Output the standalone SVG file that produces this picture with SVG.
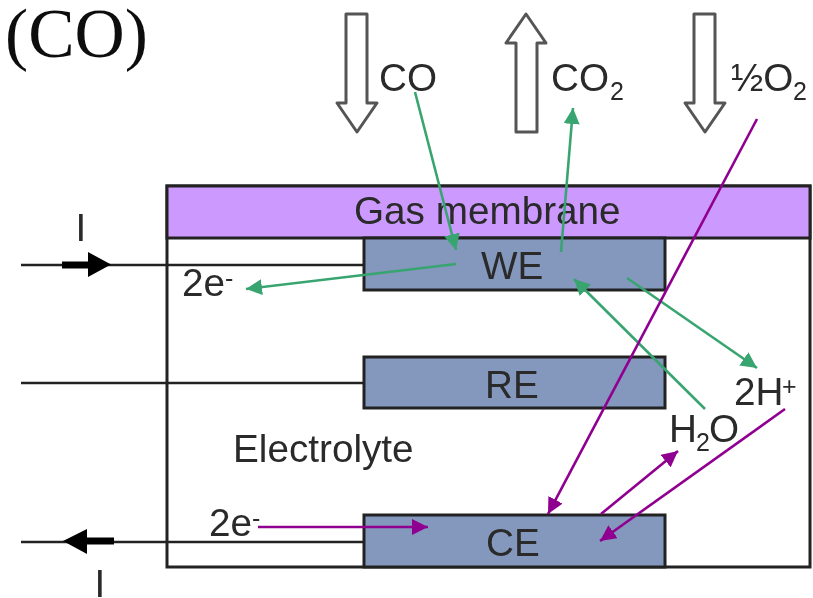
<svg xmlns="http://www.w3.org/2000/svg" width="813" height="598" viewBox="0 0 813 598">
<style>
.t{font-family:"Liberation Sans",Arial,sans-serif;fill:#2a2a2a;font-size:38.7px}
.s{font-size:25px}
.box{fill:#8497bd;stroke:#222;stroke-width:3}
.blk{fill:none;stroke:#222;stroke-width:2.6}
.hollow{fill:#fff;stroke:#555;stroke-width:3;stroke-linejoin:round}
.g{stroke:#38a56f;stroke-width:2.6;fill:none;marker-end:url(#mg)}
.p{stroke:#900090;stroke-width:2.6;fill:none;marker-end:url(#mp)}
</style>
<defs>
<filter id="soft" x="-2%" y="-2%" width="104%" height="104%"><feGaussianBlur stdDeviation="0.65"/></filter>
<marker id="mg" markerUnits="userSpaceOnUse" markerWidth="24" markerHeight="20" refX="16" refY="8" orient="auto"><path d="M0 0L16 8L0 16Z" fill="#38a56f"/></marker>
<marker id="mp" markerUnits="userSpaceOnUse" markerWidth="24" markerHeight="20" refX="16" refY="8" orient="auto"><path d="M0 0L16 8L0 16Z" fill="#900090"/></marker>
</defs>
<rect width="813" height="598" fill="#fff"/>
<g filter="url(#soft)">
<text x="5" y="57" style="font-family:'Liberation Serif','Times New Roman',serif;font-size:69.500px;fill:#111">(CO)</text>
<g id="cell"><rect x="167" y="186" width="643" height="381" fill="#fff" stroke="#222" stroke-width="3"/></g>
<g id="membrane"><rect x="167" y="186" width="643" height="52" fill="#cc99ff" stroke="#222" stroke-width="3"/><text class="t" x="354" y="223.500">Gas membrane</text></g>
<g id="wires">
<path class="blk" d="M21 265H364M21 383H364M21 542H364"/>
<path d="M62 265H90" stroke="#000" stroke-width="7" fill="none"/><path d="M88 252L111 264.500L88 277Z" fill="#000"/>
<path d="M87 541H114" stroke="#000" stroke-width="7" fill="none"/><path d="M87 529L63 541L87 554Z" fill="#000"/>
</g>
<g id="WE"><rect class="box" x="364" y="238" width="301" height="52"/><text class="t" x="481" y="279">WE</text></g>
<g id="RE"><rect class="box" x="364" y="357" width="301" height="51"/><text class="t" x="485" y="398">RE</text></g>
<g id="CE"><rect class="box" x="364" y="515" width="301" height="52"/><text class="t" x="486" y="556">CE</text></g>
<g id="flow-arrows">
<path class="hollow" d="M346 14H367V103H377L357 132L337 103H346Z"/>
<path class="hollow" d="M516 132H537V43H546L526 14L506 43H516Z"/>
<path class="hollow" d="M694 14H715V103H725L705 132L685 103H694Z"/>
</g>
<g id="labels">
<text class="t" x="379" y="91">CO</text>
<text class="t" x="551" y="91">CO</text><text class="t s" x="610" y="100">2</text>
<text class="t" x="731" y="91">½O</text><text class="t s" x="793" y="100">2</text>
<text class="t" x="233" y="462">Electrolyte</text>
<text class="t" x="734" y="405">2H</text><text class="t s" x="782" y="395">+</text>
<text class="t" x="669" y="442">H</text><text class="t s" x="696" y="451">2</text><text class="t" x="709" y="442">O</text>
<text class="t" x="182" y="296">2e</text><text class="t s" x="225" y="287">-</text>
<text class="t" x="209" y="536">2e</text><text class="t s" x="252" y="527">-</text>
<text class="t" x="75.500" y="241">I</text>
<text class="t" x="94.500" y="597">I</text>
</g>
<g id="connectors">
<path class="g" d="M415 92L456 250"/>
<path class="g" d="M561 252L573 108"/>
<path class="g" d="M456 264L246 289"/>
<path class="g" d="M627 278L757 368"/>
<path class="g" d="M705 409L574 279"/>
<path class="p" d="M757 119L548 514"/>
<path class="p" d="M601 514L678 451"/>
<path class="p" d="M785 409L600 541"/>
<path class="p" d="M258 527L428 527"/>
</g>
</g>
</svg>
